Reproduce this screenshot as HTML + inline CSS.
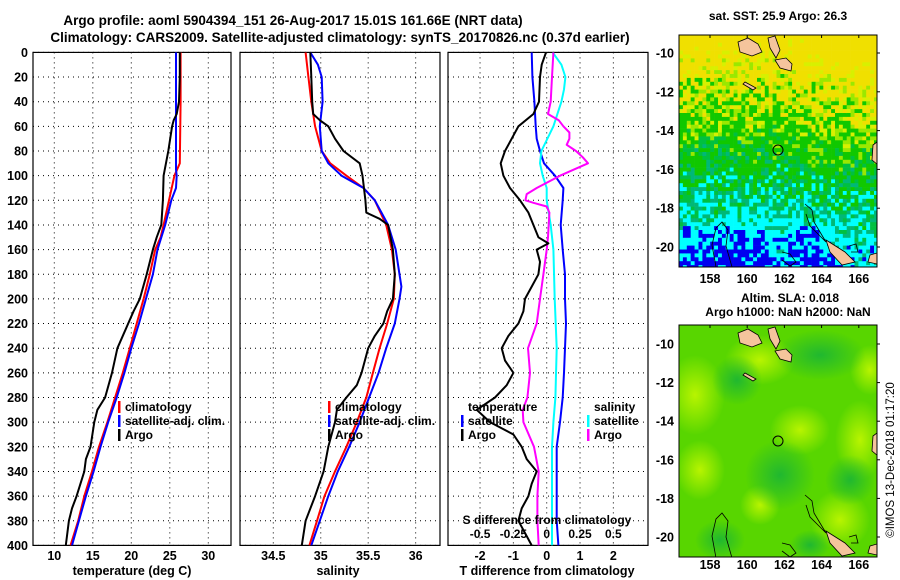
<!DOCTYPE html>
<html><head><meta charset="utf-8"><style>
html,body{margin:0;padding:0;background:#fff;}
svg{display:block;font-family:"Liberation Sans",Arial,sans-serif;font-weight:bold;}
</style></head><body>
<svg id="c" width="900" height="580" viewBox="0 0 900 580" xmlns="http://www.w3.org/2000/svg">
<rect width="900" height="580" fill="#fff"/>
<text x="293" y="25" font-size="13.5" text-anchor="middle">Argo profile: aoml 5904394_151 26-Aug-2017 15.01S 161.66E (NRT data)</text>
<text x="340" y="42" font-size="13.5" text-anchor="middle">Climatology: CARS2009. Satellite-adjusted climatology: synTS_20170826.nc (0.37d earlier)</text>
<g id="p1"></g>
<g id="p2"></g>
<g id="p3"></g>
<g id="m1"></g>
<g id="m2"></g>
<text x="778" y="20" font-size="12" text-anchor="middle">sat. SST: 25.9 Argo: 26.3</text>
<text x="790" y="302" font-size="12" text-anchor="middle">Altim. SLA: 0.018</text>
<text x="788" y="316" font-size="12" text-anchor="middle">Argo h1000: NaN h2000: NaN</text>
<text x="0" y="0" font-size="11.5" font-weight="normal" text-anchor="middle" transform="translate(894,460) rotate(-90)">©IMOS 13-Dec-2018 01:17:20</text>
</svg>
<script>
// ---- data ----
const depthTicks = [0,20,40,60,80,100,120,140,160,180,200,220,240,260,280,300,320,340,360,380,400];
const tempTicks = [10,15,20,25,30];
const salTicks = [34.5,35,35.5,36];
const tdiffTicks = [-2,-1,0,1,2];
const sdiffTicks = [-0.5,-0.25,0,0.25,0.5];
const sdiffTickLabels = ["-0.5","-0.25","0","0.25","0.5"];

const tClimDepth = [0,40,90,100,120,140,150,160,180,200,220,240,260,280,300,320,340,360,380,400];
const tClim = [26.4,26.4,26.3,25.6,24.9,24.2,23.8,23.1,22.4,21.6,20.7,19.8,18.9,17.9,16.9,15.8,14.9,13.9,13.1,12.1];
const tSatDepth = [0,95,100,110,120,130,140,160,180,200,220,240,260,280,300,320,340,360,380,400];
const tSat = [25.8,25.8,25.9,25.8,25.2,24.8,24.4,23.4,22.8,21.9,21.0,20.0,19.1,18.1,17.0,16.0,15.1,14.1,13.2,12.3];
const tArgoDepth = [0,20,40,50,55,60,80,100,120,140,150,160,180,200,210,220,240,260,280,290,300,320,330,340,360,370,380,400];
const tArgo = [26.3,26.3,26.2,25.9,25.5,25.3,24.8,24.2,24.1,23.9,23.3,22.8,22.0,21.1,20.3,19.6,18.2,17.5,16.6,15.6,15.2,14.7,14.1,13.9,12.9,12.3,11.9,11.5];

const sClimDepth = [0,20,40,60,80,90,100,110,120,140,160,180,200,220,240,260,280,300,320,340,360,380,400];
const sClim = [34.84,34.87,34.90,34.94,35.01,35.10,35.27,35.45,35.57,35.69,35.75,35.78,35.77,35.70,35.62,35.55,35.48,35.38,35.27,35.15,35.04,34.96,34.88];
const sSatDepth = [0,10,20,40,60,80,90,100,110,120,140,160,180,190,200,220,240,260,280,300,320,340,360,380,400];
const sSat = [34.89,34.97,35.01,35.02,34.99,35.01,35.08,35.22,35.45,35.57,35.71,35.79,35.83,35.85,35.83,35.78,35.69,35.61,35.51,35.41,35.30,35.18,35.08,34.99,34.90];
const sArgoDepth = [0,20,40,50,55,60,70,80,90,100,120,130,135,140,160,180,200,210,220,230,240,260,270,280,290,300,320,340,360,380,400];
const sArgo = [34.89,34.90,34.91,34.92,34.99,35.08,35.15,35.24,35.41,35.44,35.47,35.48,35.62,35.71,35.76,35.78,35.76,35.70,35.66,35.57,35.50,35.43,35.38,35.27,35.17,35.15,35.08,35.03,34.94,34.84,34.80];

const dtSatDepth = [0,20,40,60,70,80,90,100,110,120,140,160,180,200,220,240,260,280,300,320,340,360,380,400];
const dtSat = [-0.45,-0.43,-0.37,-0.33,-0.3,-0.2,-0.08,0.25,0.5,0.48,0.42,0.48,0.55,0.55,0.58,0.55,0.52,0.48,0.4,0.3,0.3,0.3,0.3,0.35];
const dtArgoDepth = [0,10,20,40,50,60,70,80,90,100,110,120,130,150,155,160,170,180,190,200,210,220,230,240,250,260,270,280,290,300,310,320,330,340,350,360,370,380,400];
const dtArgo = [-0.02,-0.15,-0.2,-0.23,-0.4,-0.85,-1.05,-1.25,-1.38,-1.3,-1.1,-0.8,-0.55,-0.25,0.05,-0.3,-0.2,-0.25,-0.45,-0.65,-0.7,-0.85,-1.15,-1.35,-1.25,-1.0,-1.2,-1.55,-2.1,-1.7,-1.0,-0.75,-0.6,-0.3,-0.45,-0.55,-0.75,-0.85,-0.45];
const dsSatDepth = [0,10,20,30,40,60,80,90,100,110,120,140,160,200,240,280,300,320,360,400];
const dsSat = [0.045,0.11,0.14,0.13,0.11,0.05,-0.04,-0.05,-0.03,0,0,0.03,0.05,0.06,0.075,0.065,0.05,0.04,0.04,0.04];
const dsArgoDepth = [0,20,40,50,55,60,65,70,75,80,85,90,100,110,115,120,122,125,130,150,160,180,200,220,240,260,280,290,300,320,340,360,380,400];
const dsArgo = [0.05,0.04,0.03,0.01,0.09,0.125,0.17,0.17,0.15,0.22,0.27,0.31,0.1,-0.075,-0.15,-0.16,-0.1,0,0.02,0.01,0,-0.025,-0.05,-0.075,-0.14,-0.125,-0.145,-0.18,-0.175,-0.095,-0.06,-0.07,-0.07,-0.06];

// ---- helpers ----
const NS = "http://www.w3.org/2000/svg";
function mk(parent, tag, attrs){const e=document.createElementNS(NS,tag);for(const k in attrs)e.setAttribute(k,attrs[k]);parent.appendChild(e);return e;}
const yD = d => 52.4 + d*1.2325;
const xT = t => 54.3 + (t-10)*7.7;
const xS = s => 273.3 + (s-34.5)*94.9;
const xDT = t => 546.7 + t*33.33;
const xDS = s => 546.7 + s*133.3;
const PT=52.4, PB=545.4;

function panel(g, x0, x1, gridXs, showDepthLabels){
  const cp = mk(g,'clipPath',{id:'clip'+x0});
  mk(cp,'rect',{x:x0,y:PT,width:x1-x0,height:PB-PT});
  depthTicks.forEach(d=>{
    const l=mk(g,'line',{x1:x0,x2:x1,y1:yD(d),y2:yD(d),stroke:'#000','stroke-width':1,'stroke-dasharray':'1,4'});
    
    
    if(showDepthLabels){
      const t=mk(g,'text',{x:28,y:yD(d)+4.5,'font-size':12.5,'text-anchor':'end'});
      t.textContent=d;
      
      
    }
  });
  gridXs.forEach(x=>{
    const l=mk(g,'line',{x1:x,x2:x,y1:PT,y2:PB,stroke:'#000','stroke-width':1,'stroke-dasharray':'1,4'});
    
    
  });
  const r=mk(g,'rect',{x:x0,y:PT,width:x1-x0,height:PB-PT,fill:'none',stroke:'#000','stroke-width':1.2});
  
  
  return 'url(#clip'+x0+')';
}
function line(g, ds, vs, fx, color, name, clip){
  const d = ds.map((dd,i)=>(i?'L':'M')+fx(vs[i]).toFixed(1)+','+yD(dd).toFixed(1)).join('');
  const p=mk(g,'path',{d:d,fill:'none',stroke:color,'stroke-width':2,'stroke-linejoin':'round','clip-path':clip});
  
  
}
function txt(g,x,y,s,size,anchor,name){
  const t=mk(g,'text',{x:x,y:y,'font-size':size,'text-anchor':anchor||'start'});
  t.textContent=s;
  
  
  return t;
}
function legend(g,x,y,color,label){
  const b=mk(g,'rect',{x:x,y:y-10,width:2.5,height:12,fill:color});
  
  
  txt(g,x+7,y,label,12,'start','legend-entry');
}

// ---- panel 1: temperature ----
const g1=document.getElementById('p1');
const c1=panel(g1,33,231,tempTicks.map(xT),true);
tempTicks.forEach(t=>txt(g1,xT(t),560,t,12.5,'middle','temperature-tick-label'));
txt(g1,132,575,'temperature (deg C)',12.5,'middle','x-axis-title-temperature');
line(g1,tClimDepth,tClim,xT,'#ff0000','temperature-climatology-line',c1);
line(g1,tSatDepth,tSat,xT,'#0000ff','temperature-satellite-line',c1);
line(g1,tArgoDepth,tArgo,xT,'#000000','temperature-argo-line',c1);
legend(g1,118,411,'#ff0000','climatology');
legend(g1,118,425,'#0000ff','satellite-adj. clim.');
legend(g1,118,439,'#000','Argo');

// ---- panel 2: salinity ----
const g2=document.getElementById('p2');
const c2=panel(g2,240,440,salTicks.map(xS),false);
salTicks.forEach(s=>txt(g2,xS(s),560,s,12.5,'middle','salinity-tick-label'));
txt(g2,338,575,'salinity',12.5,'middle','x-axis-title-salinity');
line(g2,sClimDepth,sClim,xS,'#ff0000','salinity-climatology-line',c2);
line(g2,sSatDepth,sSat,xS,'#0000ff','salinity-satellite-line',c2);
line(g2,sArgoDepth,sArgo,xS,'#000000','salinity-argo-line',c2);
legend(g2,328,411,'#ff0000','climatology');
legend(g2,328,425,'#0000ff','satellite-adj. clim.');
legend(g2,328,439,'#000','Argo');

// ---- panel 3: differences ----
const g3=document.getElementById('p3');
const c3=panel(g3,448,648,tdiffTicks.map(xDT),false);
tdiffTicks.forEach(t=>txt(g3,xDT(t),560,t,12.5,'middle','t-diff-tick-label'));
txt(g3,547,575,'T difference from climatology',12.5,'middle','x-axis-title-t-diff');
line(g3,dtSatDepth,dtSat,xDT,'#0000ff','t-diff-satellite-line',c3);
line(g3,dsSatDepth,dsSat,xDS,'#00ffff','s-diff-satellite-line',c3);
line(g3,dsArgoDepth,dsArgo,xDS,'#ff00ff','s-diff-argo-line',c3);
line(g3,dtArgoDepth,dtArgo,xDT,'#000000','t-diff-argo-line',c3);
txt(g3,468,411,'temperature',12,'start','legend-title-temperature');
legend(g3,461,425,'#0000ff','satellite');
legend(g3,461,439,'#000','Argo');
txt(g3,594,411,'salinity',12,'start','legend-title-salinity');
legend(g3,587,425,'#00ffff','satellite');
legend(g3,587,439,'#ff00ff','Argo');
txt(g3,547,524,'S difference from climatology',12,'middle','s-diff-axis-title');
sdiffTicks.forEach((s,i)=>txt(g3,xDS(s),538,sdiffTickLabels[i],12,'middle','s-diff-tick-label'));

// ---- maps ----
const lonTicks=[158,160,162,164,166];
const latTicks=[-10,-12,-14,-16,-18,-20];
const xLon = l => 710 + (l-158)*18.6;
function hash(i,j){let h=(i*374761393+j*668265263)>>>0;h=((h^(h>>>13))*1274126177)>>>0;return ((h^(h>>>16))%1000)/1000;}
function islands(g,dy){
  const polys=[
   "738,42 748,38 758,44 762,52 752,56 740,52",
   "768,38 775,36 780,50 776,58 770,48",
   "775,60 786,58 792,64 791,71 780,68",
   "745,82 756,88 753,90 743,84",
   "873,145 877,142 878,165 872,160",
   "826,240 845,252 855,262 842,265 830,252",
   "870,255 877,253 877,264 868,262"];
  polys.forEach(p=>{
    const e=mk(g,'polygon',{points:p,fill:'#f5c49c',stroke:'#000','stroke-width':0.8,transform:'translate(0,'+dy+')'});
    
    
  });
  const coasts=["716,267 712,245 716,228 722,222 728,230 726,246 732,267",
    "805,204 812,210 814,222 820,232 826,242 820,236 810,226 806,214",
    "782,252 790,254 796,262 790,266 782,260",
    "849,246 856,244 858,252 851,252"];
  coasts.forEach(p=>{
    const e=mk(g,'polyline',{points:p,fill:'none',stroke:'#000','stroke-width':0.8,transform:'translate(0,'+dy+')'});
    
    
  });
}
function mapAxes(g,top,bot,lat10,latScale,lonLabelY){
  const fr=mk(g,'rect',{x:679,y:top,width:198,height:bot-top,fill:'none',stroke:'#000','stroke-width':1});
  
  
  lonTicks.forEach(l=>{
    mk(g,'line',{x1:xLon(l),x2:xLon(l),y1:top,y2:top+3,stroke:'#000'});
    txt(g,xLon(l),lonLabelY,l,12.5,'middle','longitude-tick-label');
  });
  latTicks.forEach(a=>{
    const y=lat10+(-10-a)*latScale;
    mk(g,'line',{x1:877,x2:880,y1:y,y2:y,stroke:'#000'});
    txt(g,674,y+4.5,a,12.5,'end','latitude-tick-label');
  });
}
// top SST map
const m1=document.getElementById('m1');
const cpm1=mk(m1,'clipPath',{id:'cm1'});
mk(cpm1,'rect',{x:679,y:35,width:198,height:232});
const gm1=mk(m1,'g',{'clip-path':'url(#cm1)'});
const cell=3.9;
for(let i=0;i<51;i++){for(let j=0;j<60;j++){
  const x=679+i*cell,y=35+j*cell;
  let v=(y-35)/232 - (x>790?0.09*(x-790)/87:0) + (hash(i,j)-0.5)*0.2;
  if(y>225 && ((x<765)||(x>788&&x<830))) v+=0.12;
  let col = v<0.1?'#f0e000':v<0.17?'#d8f000':v<0.25?'#9ae800':v<0.47?'#10c800':v<0.55?'#00c040':v<0.65?'#00b878':v<0.9?'#00ffff':'#0000f0';
  mk(gm1,'rect',{x:x,y:y,width:cell+0.3,height:cell+0.3,fill:col});
}}
islands(gm1,0);
const cir1=mk(m1,'circle',{cx:778,cy:150,r:5,fill:'none',stroke:'#000','stroke-width':1});


mapAxes(m1,35,267,53,19.4,283);

// bottom SLA map
const m2=document.getElementById('m2');
const defs=mk(m2,'defs',{});
const cp2=mk(defs,'clipPath',{id:'cm2'});mk(cp2,'rect',{x:679,y:325,width:198,height:232});
const rgL=mk(defs,'radialGradient',{id:'light'});mk(rgL,'stop',{offset:'0','stop-color':'#b8f400','stop-opacity':1});mk(rgL,'stop',{offset:'1','stop-color':'#b8f400','stop-opacity':0});
const rgD=mk(defs,'radialGradient',{id:'dark'});mk(rgD,'stop',{offset:'0','stop-color':'#20b830','stop-opacity':1});mk(rgD,'stop',{offset:'1','stop-color':'#20b830','stop-opacity':0});
const gm2=mk(m2,'g',{'clip-path':'url(#cm2)'});
mk(gm2,'rect',{x:679,y:325,width:198,height:232,fill:'#58d600'});
[[695,395,30,40,'light'],[700,470,25,30,'light'],[760,360,35,25,'light'],[860,440,25,40,'light'],[800,430,30,25,'light'],[760,505,20,20,'light'],[840,520,30,30,'light'],[870,370,20,25,'light'],
 [737,380,25,25,'dark'],[780,475,35,35,'dark'],[820,355,45,25,'dark'],[850,480,25,25,'dark'],[720,540,25,20,'dark'],[810,545,20,15,'dark']].forEach(b=>{
  mk(gm2,'ellipse',{cx:b[0],cy:b[1],rx:b[2],ry:b[3],fill:'url(#'+b[4]+')'});
});
islands(gm2,291);
const cir2=mk(m2,'circle',{cx:778,cy:441,r:5,fill:'none',stroke:'#000','stroke-width':1});


mapAxes(m2,325,557,344,19.3,569);
</script>
</body></html>
